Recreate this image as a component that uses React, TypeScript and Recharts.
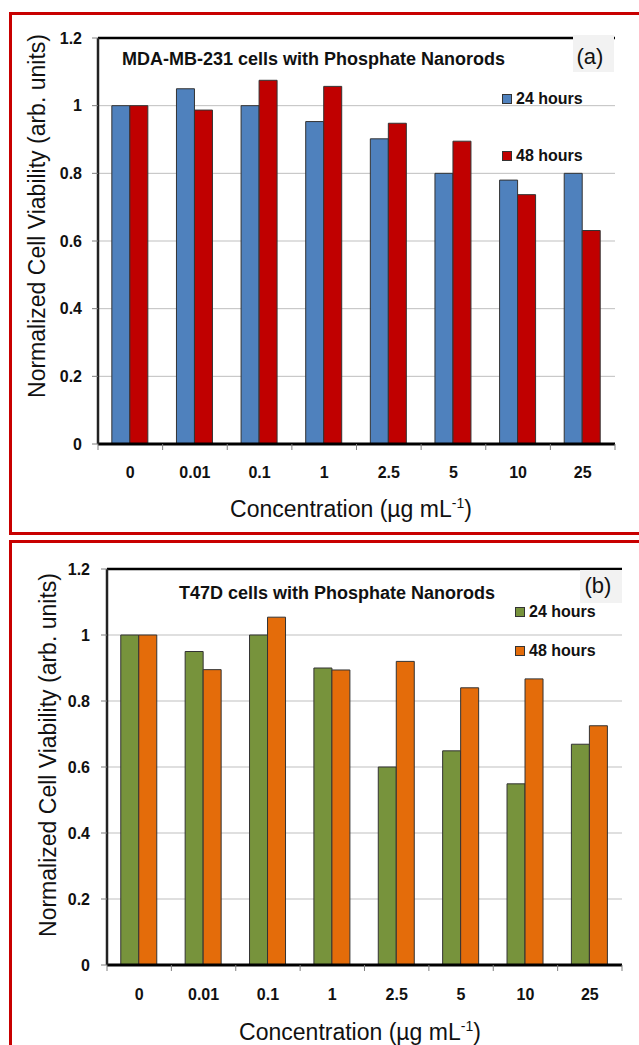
import React from 'react';
import { BarChart, Bar, XAxis, YAxis, CartesianGrid, Legend, ReferenceLine } from 'recharts';

const concentrations = ['0', '0.01', '0.1', '1', '2.5', '5', '10', '25'];
const yTicks = [0, 0.2, 0.4, 0.6, 0.8, 1, 1.2];
const seriesNames = ['24 hours', '48 hours'];

const mda24 = [1.0, 1.05, 1.0, 0.953, 0.902, 0.8, 0.78, 0.8];
const mda48 = [1.0, 0.987, 1.075, 1.057, 0.948, 0.895, 0.737, 0.631];
const t47d24 = [1.0, 0.95, 1.0, 0.9, 0.6, 0.649, 0.549, 0.669];
const t47d48 = [1.0, 0.895, 1.054, 0.894, 0.92, 0.84, 0.867, 0.725];

const titleA = 'MDA-MB-231 cells with Phosphate Nanorods';
const titleB = 'T47D cells with Phosphate Nanorods';
const tagA = '(a)';
const tagB = '(b)';
const yLabel = 'Normalized Cell Viability (arb. units)';
const xLabelMain = 'Concentration (\u00b5g mL';
const xLabelSup = '-1';

const FONT = "'Liberation Sans', Arial, sans-serif";
const W = 639;
const Y_AXIS_W = 60;
const X_AXIS_H = 40;

type PanelCfg = {
  top: number;
  height: number;
  margin: { top: number; right: number; bottom: number; left: number };
  v24: number[];
  v48: number[];
  c24: string;
  c48: string;
  title: string;
  titleX: number;
  titleY: number;
  tag: string;
  tagBox: { x: number; y: number; w: number; h: number };
  tagX: number;
  tagY: number;
  yLabX: number;
  yLabY: number;
  xLabX: number;
  xLabY: number;
  legLeft: number;
  legTop: number;
  legGap: number;
  tickDy: number;
  yTickMargin: number;
};

function Panel({ cfg }: { cfg: PanelCfg }) {
  const data = concentrations.map((c, i) => ({ conc: c, h24: cfg.v24[i], h48: cfg.v48[i] }));
  const plotLeft = cfg.margin.left + Y_AXIS_W;
  const plotRight = W - cfg.margin.right;
  const axisY = cfg.height - cfg.margin.bottom - X_AXIS_H;
  const half = (plotRight - plotLeft) / concentrations.length / 2;

  const xTick = (props: any) => {
    const { x, payload, index } = props;
    return (
      <g>
        <line x1={x - half} x2={x - half} y1={axisY} y2={axisY + 6} stroke="#7f7f7f" strokeWidth={1} />
        {index === concentrations.length - 1 ? (
          <line x1={x + half} x2={x + half} y1={axisY} y2={axisY + 6} stroke="#7f7f7f" strokeWidth={1} />
        ) : null}
        <text
          x={x}
          y={axisY + cfg.tickDy}
          textAnchor="middle"
          fontSize={16}
          fontWeight="bold"
          fontFamily={FONT}
          fill="#111"
        >
          {payload.value}
        </text>
      </g>
    );
  };

  const legendContent = (props: any) => {
    const items = (props.payload || []) as any[];
    return (
      <div style={{ fontFamily: FONT, fontWeight: 'bold', fontSize: 16, color: '#111' }}>
        {items.map((p, i) => (
          <div
            key={i}
            style={{
              display: 'flex',
              alignItems: 'center',
              height: 20,
              marginBottom: i === 0 ? cfg.legGap : 0,
              whiteSpace: 'nowrap',
            }}
          >
            <span
              style={{
                display: 'inline-block',
                width: 10,
                height: 10,
                boxSizing: 'border-box',
                background: p.color,
                border: '1px solid #333',
                marginRight: 4,
              }}
            />
            <span>{p.value}</span>
          </div>
        ))}
      </div>
    );
  };

  return (
    <div style={{ position: 'absolute', left: 0, top: cfg.top, width: W, height: cfg.height }}>
      <BarChart
        width={W}
        height={cfg.height}
        data={data}
        margin={cfg.margin}
        barCategoryGap="21.4%"
        barGap={0}
      >
        <CartesianGrid vertical={false} stroke="#bfbfbf" strokeWidth={1} />
        <XAxis
          dataKey="conc"
          height={X_AXIS_H}
          interval={0}
          tickLine={false}
          axisLine={{ stroke: '#000', strokeWidth: 3 }}
          tick={xTick}
        />
        <YAxis
          width={Y_AXIS_W}
          domain={[0, 1.2]}
          ticks={yTicks}
          interval={0}
          tickSize={6}
          tickMargin={cfg.yTickMargin}
          tickLine={{ stroke: '#7f7f7f' }}
          axisLine={{ stroke: '#222', strokeWidth: 2.5 }}
          tick={{ fontSize: 16, fontWeight: 'bold', fill: '#111', fontFamily: FONT }}
        />
        <YAxis
          yAxisId="r"
          orientation="right"
          width={0}
          domain={[0, 1.2]}
          tick={false}
          tickLine={false}
          axisLine={{ stroke: '#000', strokeWidth: 3 }}
        />
        <ReferenceLine y={1.2} stroke="#000" strokeWidth={2.5} />
        <Bar dataKey="h24" name={seriesNames[0]} fill={cfg.c24} stroke="#333" strokeWidth={1} isAnimationActive={false} />
        <Bar dataKey="h48" name={seriesNames[1]} fill={cfg.c48} stroke="#333" strokeWidth={1} isAnimationActive={false} />
        <Legend
          layout="vertical"
          align="center"
          verticalAlign="middle"
          content={legendContent}
          wrapperStyle={{ left: cfg.legLeft, top: cfg.legTop, width: 'auto', height: 'auto' }}
        />
      </BarChart>
      <svg
        width={W}
        height={cfg.height}
        style={{ position: 'absolute', left: 0, top: 0, pointerEvents: 'none' }}
      >
        <text x={cfg.titleX} y={cfg.titleY} fontFamily={FONT} fontWeight="bold" fontSize={18} fill="#111">
          {cfg.title}
        </text>
        <rect x={cfg.tagBox.x} y={cfg.tagBox.y} width={cfg.tagBox.w} height={cfg.tagBox.h} fill="#f2f2f2" />
        <text x={cfg.tagX} y={cfg.tagY} textAnchor="middle" fontFamily={FONT} fontSize={22} fill="#111">
          {cfg.tag}
        </text>
        <text
          x={cfg.yLabX}
          y={cfg.yLabY}
          transform={`rotate(-90 ${cfg.yLabX} ${cfg.yLabY})`}
          textAnchor="middle"
          fontFamily={FONT}
          fontSize={23}
          fill="#111"
        >
          {yLabel}
        </text>
        <text x={cfg.xLabX} y={cfg.xLabY} textAnchor="middle" fontFamily={FONT} fontSize={23} fill="#111">
          {xLabelMain}
          <tspan dy={-9} fontSize={14}>
            {xLabelSup}
          </tspan>
          <tspan dy={9}>)</tspan>
        </text>
      </svg>
    </div>
  );
}

const panelA: PanelCfg = {
  top: 0,
  height: 531,
  margin: { top: 38, right: 24, bottom: 47, left: 38 },
  v24: mda24,
  v48: mda48,
  c24: '#4f81bd',
  c48: '#c00000',
  title: titleA,
  titleX: 122,
  titleY: 65,
  tag: tagA,
  tagBox: { x: 573, y: 35, w: 41, h: 37 },
  tagX: 590,
  tagY: 64,
  yLabX: 45,
  yLabY: 216,
  xLabX: 351,
  xLabY: 517,
  legLeft: 502,
  legTop: 89,
  legGap: 37,
  tickDy: 34,
  yTickMargin: 10,
};

const panelB: PanelCfg = {
  top: 531,
  height: 514,
  margin: { top: 38, right: 17, bottom: 40, left: 47 },
  v24: t47d24,
  v48: t47d48,
  c24: '#77933c',
  c48: '#e46c0a',
  title: titleB,
  titleX: 179,
  titleY: 68,
  tag: tagB,
  tagBox: { x: 580, y: 39, w: 42, h: 33 },
  tagX: 598,
  tagY: 62,
  yLabX: 56,
  yLabY: 224,
  xLabX: 360,
  xLabY: 509,
  legLeft: 515,
  legTop: 71,
  legGap: 19,
  tickDy: 35,
  yTickMargin: 11,
};

export default function App() {
  return (
    <div
      style={{
        position: 'absolute',
        left: 0,
        top: 0,
        width: W,
        height: 1045,
        overflow: 'hidden',
        background: '#fff',
        fontFamily: FONT,
      }}
    >
      <div
        style={{
          position: 'absolute',
          left: 9,
          top: 12,
          width: 700,
          height: 520 - 3,
          border: '3px solid #c80000',
        }}
      />
      <div
        style={{
          position: 'absolute',
          left: 9,
          top: 540,
          width: 700,
          height: 600,
          border: '3px solid #c80000',
        }}
      />
      <Panel cfg={panelA} />
      <Panel cfg={panelB} />
    </div>
  );
}
